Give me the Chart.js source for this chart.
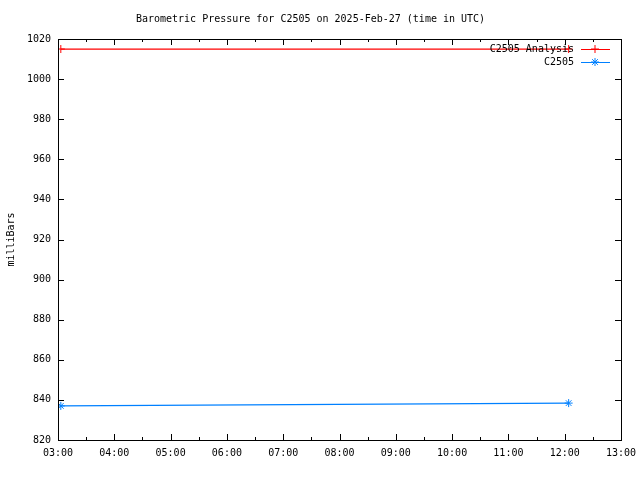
<!DOCTYPE html>
<html>
<head>
<meta charset="utf-8">
<script src="https://cdn.jsdelivr.net/npm/chart.js@4.4.1/dist/chart.umd.min.js"></script>
<style>
    html, body { margin: 0; padding: 0; background: #fff; }
    #wrap { width: 640px; height: 480px; }
</style>
</head>
<body>
<div id="wrap"><canvas id="myChart" width="640" height="480"></canvas></div>
<script>
// times are hours (UTC) on 2025-Feb-27
var analysisTimes = [3.05, 12.07];
var analysisValues = [1015, 1015];
var stationTimes = [3.05, 12.07];
var stationValues = [837.0, 838.4];
var xTicks = [3, 4, 5, 6, 7, 8, 9, 10, 11, 12, 13];
var yTicks = [820, 840, 860, 880, 900, 920, 940, 960, 980, 1000, 1020];

var FONT = 'DejaVu Sans Mono';

function toPoints(xs, ys) {
    var out = [];
    for (var i = 0; i < xs.length; i++) out.push({ x: xs[i], y: ys[i] });
    return out;
}

function hhmm(v) {
    var h = Math.floor(v);
    return (h < 10 ? '0' : '') + h + ':00';
}

// gnuplot style: frame box, inward ticks (minor at half hours), legend inside top right
var framePlugin = {
    id: 'frame',
    afterDraw: function (chart) {
        var c = chart.ctx, a = chart.chartArea;
        var xs = chart.scales.x, ys = chart.scales.y;
        c.save();
        c.strokeStyle = '#000';
        c.lineWidth = 1;
        c.strokeRect(Math.round(a.left) + 0.5, Math.round(a.top) + 0.5,
            Math.round(a.right - a.left), Math.round(a.bottom - a.top));
        c.beginPath();
        for (var t = xTicks[0]; t <= xTicks[xTicks.length - 1] + 0.01; t += 0.5) {
            var px = Math.round(xs.getPixelForValue(t)) + 0.5;
            var len = (t % 1 === 0) ? 6 : 3;
            c.moveTo(px, a.bottom); c.lineTo(px, a.bottom - len);
            c.moveTo(px, a.top); c.lineTo(px, a.top + len);
        }
        yTicks.forEach(function (v) {
            var py = Math.round(ys.getPixelForValue(v)) + 0.5;
            c.moveTo(a.left, py); c.lineTo(a.left + 6, py);
            c.moveTo(a.right, py); c.lineTo(a.right - 6, py);
        });
        c.stroke();

        // key
        c.font = '10px "' + FONT + '"';
        c.textAlign = 'right';
        c.textBaseline = 'middle';
        chart.data.datasets.forEach(function (ds, i) {
            var y = a.top + 10 + i * 13;
            c.fillStyle = '#000';
            c.fillText(ds.label, a.right - 47, y);
            c.strokeStyle = ds.borderColor;
            c.beginPath();
            c.moveTo(a.right - 40, y + 0.5); c.lineTo(a.right - 11, y + 0.5);
            c.stroke();
            Chart.helpers.drawPoint(c, {
                pointStyle: ds.pointStyle, radius: 4, rotation: 0, borderWidth: 1
            }, a.right - 26, y);
        });
        c.restore();
    }
};

var ctx = document.getElementById('myChart').getContext('2d');
var myChart = new Chart(ctx, {
    type: 'line',
    data: {
        datasets: [{
            label: 'C2505 Analysis',
            data: toPoints(analysisTimes, analysisValues),
            borderColor: 'rgb(255, 0, 0)',
            backgroundColor: 'rgb(255, 0, 0)',
            borderWidth: 1.2,
            pointStyle: 'cross',
            pointRadius: 4,
            pointBorderWidth: 1
        }, {
            label: 'C2505',
            data: toPoints(stationTimes, stationValues),
            borderColor: 'rgb(0, 128, 255)',
            backgroundColor: 'rgb(0, 128, 255)',
            borderWidth: 1.2,
            pointStyle: 'star',
            pointRadius: 4,
            pointBorderWidth: 1
        }]
    },
    options: {
        responsive: false,
        animation: false,
        layout: { padding: { left: 0, right: 19, top: 0, bottom: 0 } },
        plugins: {
            legend: { display: false },
            tooltip: { enabled: false },
            title: {
                display: true,
                text: 'Barometric Pressure for C2505 on 2025-Feb-27 (time in UTC)',
                color: '#000',
                font: { family: FONT, size: 10, weight: 'normal' },
                padding: { top: 13, bottom: 14 }
            }
        },
        scales: {
            x: {
                type: 'linear',
                min: xTicks[0],
                max: xTicks[xTicks.length - 1],
                afterBuildTicks: function (scale) {
                    scale.ticks = xTicks.map(function (v) { return { value: v }; });
                },
                ticks: {
                    color: '#000',
                    font: { family: FONT, size: 10 },
                    padding: 7,
                    maxRotation: 0,
                    autoSkip: false,
                    callback: function (v) { return hhmm(v); }
                },
                grid: { display: false, drawTicks: false },
                border: { display: false },
                afterFit: function (scale) {
                    scale.height = 40;
                    scale.paddingLeft = 0;
                    scale.paddingRight = 0;
                }
            },
            y: {
                min: 820,
                max: 1020,
                afterBuildTicks: function (scale) {
                    scale.ticks = yTicks.map(function (v) { return { value: v }; });
                },
                ticks: {
                    color: '#000',
                    font: { family: FONT, size: 10 },
                    padding: 7,
                    autoSkip: false,
                    callback: function (v) { return String(v); }
                },
                title: {
                    display: true,
                    text: 'milliBars',
                    color: '#000',
                    font: { family: FONT, size: 10 },
                    padding: { top: 5, bottom: 0 }
                },
                grid: { display: false, drawTicks: false },
                border: { display: false },
                afterFit: function (scale) {
                    scale.width = 58;
                    scale.paddingTop = 0;
                    scale.paddingBottom = 0;
                }
            }
        }
    },
    plugins: [framePlugin]
});
</script>
</body>
</html>
